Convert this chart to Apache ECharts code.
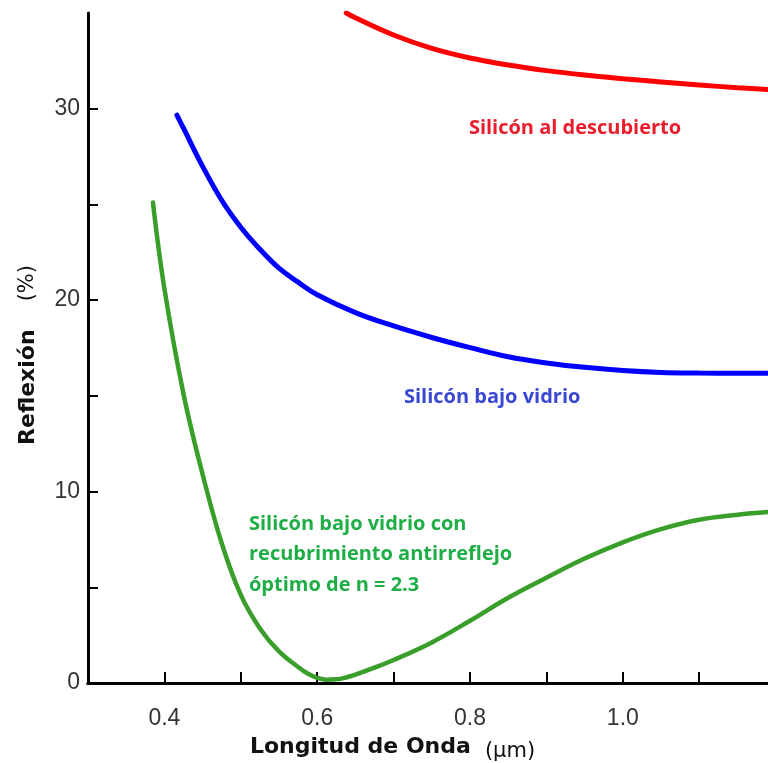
<!DOCTYPE html>
<html>
<head>
<meta charset="utf-8">
<script src="https://cdn.jsdelivr.net/npm/echarts@6/dist/echarts.min.js"></script>
<style>html,body{margin:0;padding:0;background:#fff}#c{width:768px;height:763px}</style>
</head>
<body>
<div id="c"></div>
<script>
// Wavelength (µm) / reflection (%) values
var redX = [0.638, 0.65, 0.70, 0.75, 0.80, 0.85, 0.90, 0.95, 1.00, 1.05, 1.10, 1.15, 1.19];
var redY = [35.0, 34.75, 33.85, 33.15, 32.65, 32.28, 31.99, 31.76, 31.57, 31.40, 31.24, 31.10, 31.01];

var blueX = [0.4164, 0.425, 0.45, 0.475, 0.50, 0.525, 0.55, 0.575, 0.60, 0.65, 0.70, 0.75, 0.80, 0.85, 0.90, 0.95, 1.00, 1.05, 1.10, 1.15, 1.19];
var blueY = [29.66, 28.98, 26.99, 25.22, 23.81, 22.66, 21.67, 20.94, 20.28, 19.35, 18.65, 18.05, 17.52, 17.04, 16.72, 16.49, 16.32, 16.22, 16.19, 16.18, 16.18];

var greenX = [0.385, 0.40, 0.425, 0.45, 0.475, 0.50, 0.525, 0.55, 0.575, 0.5875, 0.60, 0.6125, 0.625, 0.6375, 0.65, 0.675, 0.70, 0.75, 0.80, 0.85, 0.90, 0.95, 1.00, 1.05, 1.10, 1.15, 1.19];
var greenY = [25.1, 20.6, 15.1, 10.9, 7.3, 4.6, 2.85, 1.65, 0.84, 0.5, 0.27, 0.17, 0.19, 0.29, 0.44, 0.8, 1.2, 2.12, 3.25, 4.45, 5.5, 6.5, 7.35, 8.04, 8.53, 8.79, 8.93];

var xTickValues = [0.4, 0.5, 0.6, 0.7, 0.8, 0.9, 1.0, 1.1];
var xLabelValues = [0.4, 0.6, 0.8, 1.0];
var yTickValues = [5, 10, 15, 20, 25, 30];
var yLabelValues = [0, 10, 20, 30];

var labelRed = 'Silicón al descubierto';
var labelBlue = 'Silicón bajo vidrio';
var labelGreen = 'Silicón bajo vidrio con\nrecubrimiento antirreflejo\nóptimo de n = 2.3';
// anchor points (data coords) of the annotations
var anchorRed = [0.7985, 28.98];
var anchorBlue = [0.7135, 14.93];
var anchorGreen = [0.5107, 6.70];

function pairs(xs, ys) { return xs.map(function (x, i) { return [x, ys[i]]; }); }

function note(anchor, text, color) {
  return {
    symbol: 'circle', symbolSize: 0, silent: true,
    data: [{ coord: anchor, value: text }],
    label: {
      show: true, position: 'right', distance: 0, formatter: text,
      color: color, fontFamily: 'Open Sans', fontWeight: 'bold', fontSize: 20, lineHeight: 30.5, align: 'left'
    }
  };
}

var chart = echarts.init(document.getElementById('c'), null, { renderer: 'canvas' });
chart.setOption({
  animation: false,
  backgroundColor: '#fff',
  grid: { left: 88, right: 0, top: 13, bottom: 80, containLabel: false, outerBoundsMode: 'none' },
  xAxis: [{
    type: 'value', min: 0.3, max: 1.19, interval: 0.1,
    axisLine: { show: true, onZero: false, lineStyle: { color: '#000', width: 3 } },
    axisTick: { show: true, inside: true, length: 11, customValues: xTickValues, lineStyle: { color: '#000', width: 2 } },
    axisLabel: { customValues: xLabelValues, margin: 24, color: '#333', fontSize: 23, fontFamily: 'Liberation Sans',
      formatter: function (v) { return v.toFixed(1); } },
    splitLine: { show: false },
    name: '{b|Longitud de Onda}{r|(µm)}',
    nameLocation: 'middle', nameGap: 50,
    nameTextStyle: {
      padding: [0, 71, 0, 0],
      rich: {
        b: { fontFamily: 'DejaVu Sans', fontWeight: 'bold', fontSize: 22, color: '#111' },
        r: { fontFamily: 'DejaVu Sans', fontSize: 21, color: '#111', padding: [8, 0, 0, 14] }
      }
    }
  }, {
    type: 'value', position: 'top', min: 0.3, max: 1.19,
    axisLine: { show: true, lineStyle: { color: '#000', width: 3 } },
    axisTick: { show: false }, axisLabel: { show: false }, splitLine: { show: false }
  }],
  yAxis: {
    type: 'value', min: 0, max: 35, interval: 5,
    axisLine: { show: true, lineStyle: { color: '#000', width: 3 } },
    axisTick: { show: true, inside: true, length: 10, customValues: yTickValues, lineStyle: { color: '#000', width: 2 } },
    axisLabel: { customValues: yLabelValues, margin: 8, color: '#333', fontSize: 23, fontFamily: 'Liberation Sans' },
    splitLine: { show: false },
    name: '{b|Reflexión}{r|(%)}',
    nameLocation: 'middle', nameGap: 49, nameRotate: 90,
    nameTextStyle: {
      padding: [0, 14, 0, 0],
      rich: {
        b: { fontFamily: 'DejaVu Sans', fontWeight: 'bold', fontSize: 22, color: '#111' },
        r: { fontFamily: 'DejaVu Sans', fontSize: 21, color: '#111', padding: [0, 0, 0, 28] }
      }
    }
  },
  series: [{
    type: 'line', name: labelRed, data: pairs(redX, redY), showSymbol: false, smooth: 0.4,
    lineStyle: { color: '#ff0000', width: 5, cap: 'round' }, clip: true,
    markPoint: note(anchorRed, labelRed, '#ea1d2c')
  }, {
    type: 'line', name: labelBlue, data: pairs(blueX, blueY), showSymbol: false, smooth: 0.4,
    lineStyle: { color: '#0000ff', width: 5, cap: 'round' }, clip: true,
    markPoint: note(anchorBlue, labelBlue, '#3a48d4')
  }, {
    type: 'line', name: 'green', data: pairs(greenX, greenY), showSymbol: false, smooth: 0.4,
    lineStyle: { color: '#3a9f2a', width: 4.5, cap: 'round' }, clip: true,
    markPoint: note(anchorGreen, labelGreen, '#1fae45')
  }]
});
</script>
</body>
</html>
